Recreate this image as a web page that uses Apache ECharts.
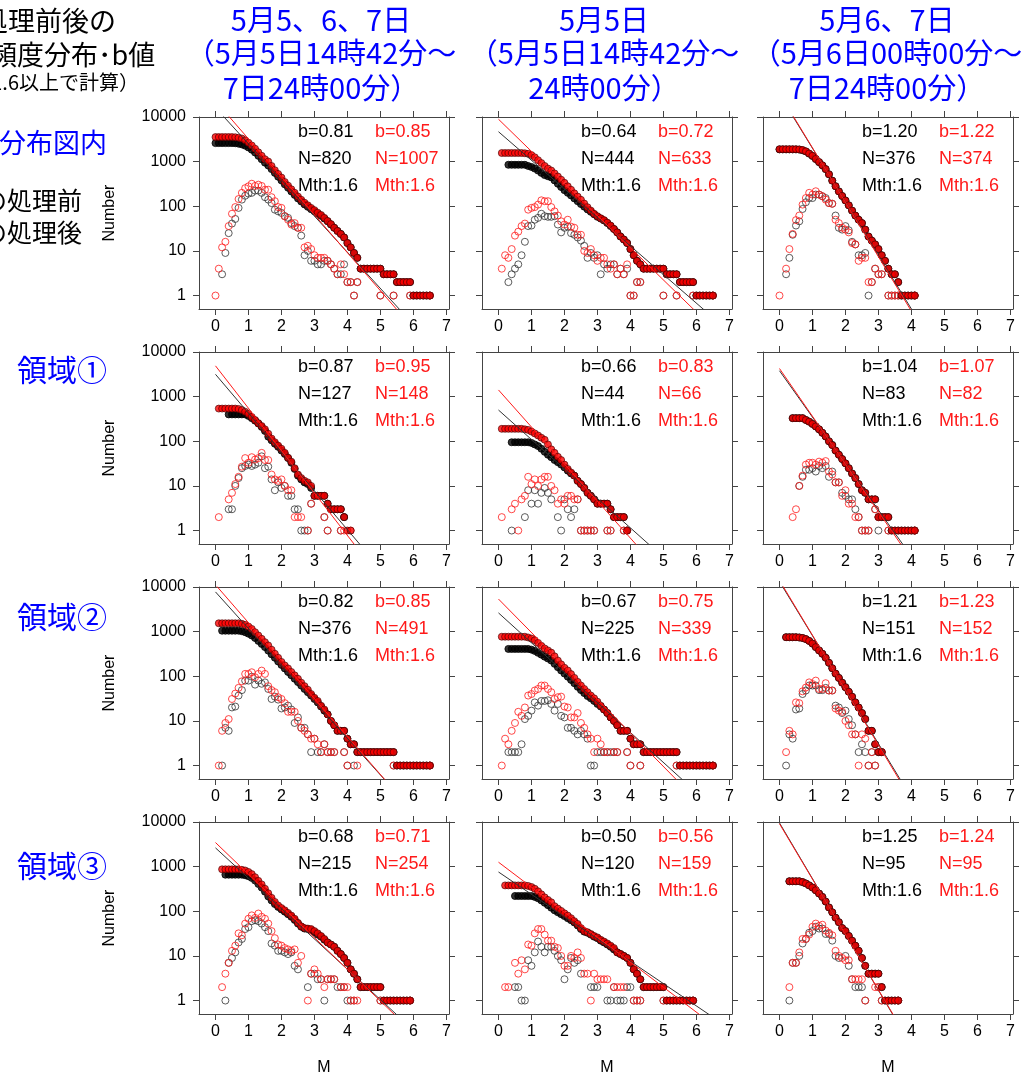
<!DOCTYPE html>
<html>
<head>
<meta charset="utf-8">
<script src="https://cdn.jsdelivr.net/npm/echarts@6/dist/echarts.min.js"></script>
<style>
  html, body { margin: 0; padding: 0; background: #fff; }
  #main { width: 1026px; height: 1079px; }
</style>
</head>
<body>
<div id="main"></div>
<script>
// magnitude bins, 0.1 step
const mags = [0.0,0.1,0.2,0.3,0.4,0.5,0.6,0.7,0.8,0.9,1.0,1.1,1.2,1.3,1.4,1.5,1.6,1.7,1.8,1.9,
  2.0,2.1,2.2,2.3,2.4,2.5,2.6,2.7,2.8,2.9,3.0,3.1,3.2,3.3,3.4,3.5,3.6,3.7,3.8,3.9,
  4.0,4.1,4.2,4.3,4.4,4.5,4.6,4.7,4.8,4.9,5.0,5.1,5.2,5.3,5.4,5.5,5.6,5.7,5.8,5.9,
  6.0,6.1,6.2,6.3,6.4,6.5];

// row 1 (whole area), col 1 : 5/5-7
const p11BlackCum = [2600,2600,2600,2600,2600,2600,2580,2520,2430,2280,2080,1850,1600,1350,1130,950,820,680,560,460,
  380,310,260,215,180,150,128,110,97,86,77,68,61,53,46,39,33,28,24,20,15,12,9,7,4,4,4,4,4,4,4,3,3,3,3,2,2,2,2,2,1,1,1,1,1,1];
const p11RedCum = [3550,3550,3550,3550,3550,3550,3520,3450,3300,3000,2650,2300,1950,1620,1350,1130,1007,800,640,530,
  440,350,290,240,200,165,140,120,105,92,82,72,64,55,47,40,33,28,24,20,15,12,9,7,4,4,4,4,4,4,4,3,3,3,3,2,2,2,2,2,1,1,1,1,1,1];
const p11BlackCnt = [0,0,3,9,25,41,52,92,141,172,192,200,224,224,200,160,141,118,84,77,
  71,60,55,42,36,33,22,8,10,6,6,5,5,6,6,5,4,3,3,5,2,2,1,2,0,0,0,0,0,0,1,0,0,0,1,0,0,0,0,1,0,0,0,0,0,1];
const p11RedCnt = [1,4,12,16,36,68,96,145,200,255,280,320,285,305,285,235,235,160,130,96,
  92,60,50,39,42,33,33,12,13,11,8,7,7,7,6,5,4,3,5,3,2,2,1,2,0,0,0,0,0,0,1,0,0,0,1,0,0,0,0,1,0,0,0,0,0,1];

// row 1, col 2 : 5/5
const p12BlackCum = [0,0,0,850,850,850,850,850,850,800,760,700,630,560,500,470,444,380,320,270,
  230,200,175,150,130,112,98,85,75,66,58,53,48,42,36,31,26,21,18,15,11,8,6,5,4,4,4,4,4,4,4,3,3,3,3,2,2,2,2,2,1,1,1,1,1,1];
const p12RedCum = [0,1560,1560,1560,1560,1560,1560,1560,1540,1500,1400,1250,1080,930,800,700,633,545,465,395,
  335,280,235,195,165,140,115,95,80,68,60,54,49,43,37,31,26,21,18,15,11,8,6,5,4,4,4,4,4,4,4,3,3,3,3,2,2,2,2,2,1,1,1,1,1,1];
const p12BlackCnt = [0,0,0,2,3,4,5,8,16,36,37,50,55,68,60,58,58,60,39,26,
  33,35,25,23,20,17,13,7,9,7,8,3,5,4,5,5,3,4,3,4,1,1,2,2,0,0,0,0,0,0,1,0,0,0,1,0,0,0,0,1,0,0,0,0,0,1];
const p12RedCnt = [0,4,8,7,11,22,27,36,41,84,92,96,109,136,130,130,96,77,62,46,
  39,50,35,33,23,23,10,9,11,8,6,7,7,5,4,5,3,4,3,5,1,1,2,2,0,0,0,0,0,0,1,0,0,0,1,0,0,0,0,1,0,0,0,0,0,1];

// row 1, col 3 : 5/6-7
const p13BlackCum = [1880,1880,1880,1880,1880,1880,1860,1800,1690,1510,1340,1140,975,825,680,520,376,282,216,170,
  135,105,80,62,50,42,30,21,17,14,11,8,6,4,3,3,2,1,1,1,1,1];
const p13RedCum = [1900,1900,1900,1900,1900,1900,1880,1820,1700,1520,1350,1150,980,830,680,520,374,280,215,170,
  135,105,80,62,50,42,30,21,17,14,11,8,6,4,3,3,2,1,1,1,1,1];
const p13BlackCnt = [0,0,3,7,23,37,46,87,123,153,153,183,183,168,153,118,114,62,33,30,
  36,29,16,14,8,8,9,1,2,4,3,3,0,1,1,1,1,0,0,0,0,1];
const p13RedCnt = [1,0,4,11,24,49,62,109,153,200,183,217,183,168,141,118,114,50,42,33,
  30,26,15,14,6,7,7,2,2,4,3,3,0,1,1,1,1,0,0,0,0,1];

// row 2 (region 1)
const p21BlackCum = [0,0,0,0,400,400,400,400,400,400,370,330,290,250,210,170,127,105,88,75,
  62,52,42,33,24,17,14,12,11,9,6,6,6,6,4,3,3,3,3,2];
const p21RedCum = [0,540,540,540,540,540,540,530,500,460,410,350,300,255,220,185,148,115,95,80,
  68,55,43,35,25,18,15,13,12,10,6,6,6,6,4,3,3,3,3,2,1,1];
const p21BlackCnt = [0,0,0,0,3,3,10,15,25,28,30,28,30,33,46,25,27,14,8,12,
  9,10,6,6,3,3,1,1,1,4,0,0,0,2,1,0,0,0,1,2];
const p21RedCnt = [0,2,0,0,5,7,11,16,27,42,33,44,39,42,55,38,38,18,14,13,
  14,10,8,8,2,2,2,0,1,4,0,0,0,2,1,0,0,0,1,1,0,1];

const p22BlackCum = [0,0,0,0,95,95,95,95,95,95,92,85,78,68,58,50,44,38,34,30,
  26,22,19,17,13,11,9,7,6,5,4,4,4,4,3,2,2,2,2,1];
const p22RedCum = [0,190,190,190,190,190,190,190,185,180,165,150,135,120,108,85,66,55,45,38,
  30,24,20,17,13,11,9,7,6,5,4,4,4,4,3,2,2,2,2,1];
const p22BlackCnt = [0,0,0,0,1,0,0,0,2,8,4,8,4,7,9,7,5,0,2,1,
  5,3,2,3,5,1,1,1,1,1,0,0,0,1,1,0,0,0,1,1];
const p22RedCnt = [0,2,0,0,3,4,1,5,6,16,11,14,10,14,16,16,10,8,4,5,
  4,6,6,5,5,1,1,1,1,1,0,0,0,1,1,0,0,0,1,1];

const p23BlackCum = [0,0,0,0,330,330,330,330,300,275,245,215,185,155,128,100,83,62,50,40,
  32,25,19,15,11,8,7,5,5,5,2,2,2,2,1,1,1,1,1,1,1,1];
const p23RedCum = [0,0,0,0,330,330,330,330,300,275,245,215,185,155,128,100,82,62,50,40,
  32,25,19,15,11,8,7,5,5,5,2,2,2,2,1,1,1,1,1,1,1,1];
const p23BlackCnt = [0,0,0,0,0,0,10,16,23,23,25,21,28,25,28,16,21,12,12,7,
  6,5,5,3,2,1,1,1,0,3,1,0,0,1,0,0,0,0,0,0,0,1];
const p23RedCnt = [0,0,0,0,2,3,10,17,30,33,33,30,35,33,36,21,18,12,12,6,
  8,4,4,2,2,1,1,1,0,3,2,0,0,1,0,0,0,0,0,0,0,1];

// row 3 (region 2)
const p31BlackCum = [0,0,1050,1050,1050,1050,1050,1050,1020,970,900,820,720,620,530,450,376,310,260,215,
  180,150,125,105,88,74,62,52,44,37,31,26,21,17,14,10,8,6,6,6,4,3,3,2,2,2,2,2,2,2,2,2,2,2,2,1,1,1,1,1,1,1,1,1,1,1];
const p31RedCum = [0,1540,1540,1540,1540,1540,1540,1540,1500,1420,1300,1150,970,820,690,580,491,395,320,260,
  210,175,150,125,105,88,72,60,50,40,33,28,22,18,14,10,8,6,6,6,4,3,3,2,2,2,2,2,2,2,2,2,2,2,2,1,1,1,1,1,1,1,1,1,1,1];
const p31BlackCnt = [0,0,1,7,6,20,21,37,49,80,80,98,65,80,68,73,52,31,35,30,
  19,20,22,18,9,12,7,7,5,2,4,2,2,3,2,2,2,0,0,2,1,0,1,0,0,0,0,0,0,0,0,0,0,0,1,0,0,0,0,0,0,0,0,0,0,1];
const p31RedCnt = [0,1,6,9,11,31,41,55,77,113,113,123,95,113,134,113,60,49,44,34,
  31,25,16,16,16,10,7,6,5,4,4,3,2,3,2,2,2,0,0,2,1,0,0,1,0,0,0,0,0,0,0,0,0,0,1,0,0,0,0,0,0,0,0,0,0,1];

const p32BlackCum = [0,0,0,410,410,410,410,410,410,410,395,370,335,305,275,250,225,190,160,135,
  115,98,83,70,58,49,42,36,32,28,24,21,18,15,12,10,8,6,6,6,4,3,3,3,2,2,2,2,2,2,2,2,2,2,2,1,1,1,1,1,1,1,1,1,1,1];
const p32RedCum = [0,770,770,770,770,770,770,770,770,740,700,640,560,480,420,380,339,280,225,185,
  155,135,112,92,75,62,52,44,37,32,27,22,18,15,12,10,8,6,6,6,4,3,3,3,2,2,2,2,2,2,2,2,2,2,2,1,1,1,1,1,1,1,1,1,1,1];
const p32BlackCnt = [0,0,0,2,2,2,2,3,11,13,17,26,22,28,28,29,24,17,24,13,
  12,7,7,6,5,6,5,4,1,1,2,2,2,2,2,2,2,0,0,2,1,0,0,1,0,0,0,0,0,0,0,0,0,0,1,0,0,0,0,0,0,0,0,0,0,1];
const p32RedCnt = [0,1,4,3,6,9,16,13,20,37,40,48,52,62,62,52,44,31,34,35,
  21,20,12,12,15,9,7,5,4,2,4,3,2,2,0,2,2,0,0,2,1,0,0,1,0,0,0,0,0,0,0,0,0,0,1,0,0,0,0,0,0,0,0,0,0,1];

const p33BlackCum = [0,0,750,750,750,750,740,720,680,620,540,450,380,320,260,200,151,115,92,72,
  57,45,35,26,20,15,11,6,6,3,2,2];
const p33RedCum = [0,0,750,750,750,750,740,720,680,620,540,450,380,320,260,200,152,115,92,72,
  57,45,35,26,20,15,11,6,6,3,2,2];
const p33BlackCnt = [0,0,1,5,4,18,19,40,48,62,62,62,49,49,55,48,48,22,20,15,
  17,11,8,5,2,3,2,1,2,1,0,2];
const p33RedCnt = [0,0,2,6,5,26,25,46,56,73,67,80,52,52,70,48,48,19,17,16,
  10,8,5,5,1,5,4,1,2,1,0,2];

// row 4 (region 3)
const p41BlackCum = [0,0,0,660,660,660,660,660,660,640,610,560,490,410,340,275,215,175,145,125,
  110,98,86,75,64,53,45,41,40,38,34,30,27,23,20,18,16,13,11,9,7,5,4,3,2,2,2,2,2,2,2,1,1,1,1,1,1,1,1,1];
const p41RedCum = [0,0,870,870,870,870,870,870,850,820,760,680,580,480,400,320,254,200,162,135,
  118,105,92,80,68,55,46,42,41,40,36,32,28,24,20,18,16,13,11,9,7,5,4,3,2,2,2,2,2,2,2,1,1,1,1,1,1,1,1,1];
const p41BlackCnt = [0,0,0,1,7,9,12,20,24,40,44,60,63,60,53,44,36,19,17,13,
  13,12,11,12,6,5,0,0,2,4,4,3,3,1,3,3,3,2,2,2,1,1,1,0,0,0,0,0,0,0,1,0,0,0,0,0,0,0,0,1];
const p41RedCnt = [0,0,2,4,7,13,17,32,29,53,68,81,71,89,75,68,53,36,25,18,
  17,15,14,13,14,7,10,0,1,4,5,4,3,2,3,3,3,0,2,2,2,1,1,1,0,0,0,0,0,0,1,0,0,0,0,0,0,0,0,1];

const p42BlackCum = [0,0,0,0,0,220,220,220,220,220,220,210,195,175,155,137,120,105,95,86,
  78,70,63,56,48,40,35,33,30,27,25,22,20,18,16,14,12,11,10,9,7,5,4,3,2,2,2,2,2,2,2,1,1,1,1,1,1,1,1,1];
const p42RedCum = [0,0,380,380,380,380,380,380,380,370,350,320,280,240,205,180,159,130,115,102,
  90,80,70,60,52,42,36,34,31,28,26,23,21,19,17,15,12,11,10,9,7,5,4,3,2,2,2,2,2,2,2,1,1,1,1,1,1,1,1,1];
const p42BlackCnt = [0,0,0,0,0,2,2,1,1,8,6,12,21,16,12,16,16,13,10,8,
  3,5,9,7,8,4,0,0,2,2,2,0,0,1,1,2,1,1,1,2,2,1,1,1,0,0,0,0,0,0,1,0,0,0,0,0,0,0,0,1];
const p42RedCnt = [0,0,2,2,0,7,4,8,5,18,17,32,40,40,30,22,22,16,15,10,
  6,6,10,9,12,9,4,4,1,4,3,3,3,3,0,2,2,2,2,0,0,1,1,1,0,0,0,0,0,0,1,0,0,0,0,0,0,0,0,1];

const p43BlackCum = [0,0,0,470,470,470,470,450,420,380,340,295,250,210,165,122,95,72,57,42,
  36,28,22,17,13,9,6,4,4,4,4,2,1,1,1,1,1];
const p43RedCum = [0,0,0,470,470,470,470,450,420,380,340,295,250,210,165,122,95,72,57,42,
  36,28,22,17,13,9,6,4,4,4,4,2,1,1,1,1,1];
const p43BlackCnt = [0,0,0,1,7,7,10,19,24,33,36,45,41,41,31,31,22,10,9,0,
  10,6,3,2,2,2,1,0,0,0,2,1,0,0,0,0,1];
const p43RedCnt = [0,0,0,2,7,7,12,24,24,30,45,53,47,50,37,33,29,13,10,9,
  8,8,3,3,3,3,1,0,0,2,2,1,0,0,0,0,1];

// fit results per panel (row-major)
const bBlack = [0.81, 0.64, 1.20, 0.87, 0.66, 1.04, 0.82, 0.67, 1.21, 0.68, 0.50, 1.25];
const bRed   = [0.85, 0.72, 1.22, 0.95, 0.83, 1.07, 0.85, 0.75, 1.23, 0.71, 0.56, 1.24];
const nBlack = [820, 444, 376, 127, 44, 83, 376, 225, 151, 215, 120, 95];
const nRed   = [1007, 633, 374, 148, 66, 82, 491, 339, 152, 254, 159, 95];
const mth = '1.6';
// log10 intercept (value at M=0) of each fitted line
const aBlack = [4.21, 3.67, 4.50, 3.50, 2.70, 3.58, 3.89, 3.42, 4.12, 3.42, 2.88, 3.98];
const aRed   = [4.36, 3.95, 4.53, 3.69, 3.15, 3.63, 4.05, 3.73, 4.15, 3.54, 3.10, 3.96];

const xTicks = [0, 1, 2, 3, 4, 5, 6, 7];
const yTicks = [1, 10, 100, 1000, 10000];

const colTitles = [
  ['5月5、6、7日', '（5月5日14時42分～', '7日24時00分）'],
  ['5月5日', '（5月5日14時42分～', '24時00分）'],
  ['5月6、7日', '（5月6日00時00分～', '7日24時00分）']
];
const rowLabels = ['領域①', '領域②', '領域③'];

const panels = [
  [p11BlackCum, p11RedCum, p11BlackCnt, p11RedCnt],
  [p12BlackCum, p12RedCum, p12BlackCnt, p12RedCnt],
  [p13BlackCum, p13RedCum, p13BlackCnt, p13RedCnt],
  [p21BlackCum, p21RedCum, p21BlackCnt, p21RedCnt],
  [p22BlackCum, p22RedCum, p22BlackCnt, p22RedCnt],
  [p23BlackCum, p23RedCum, p23BlackCnt, p23RedCnt],
  [p31BlackCum, p31RedCum, p31BlackCnt, p31RedCnt],
  [p32BlackCum, p32RedCum, p32BlackCnt, p32RedCnt],
  [p33BlackCum, p33RedCum, p33BlackCnt, p33RedCnt],
  [p41BlackCum, p41RedCum, p41BlackCnt, p41RedCnt],
  [p42BlackCum, p42RedCum, p42BlackCnt, p42RedCnt],
  [p43BlackCum, p43RedCum, p43BlackCnt, p43RedCnt]
];

// layout
const gridLefts = [199, 482, 763];
const gridTops = [117, 352, 587, 822];
const gridW = 250, gridH = 192;
const xMin = -0.5, xMax = 7.08;
const axisColor = '#444';
const latin = "'Liberation Sans', Arial, sans-serif";
const jp = "'Noto Sans CJK JP', sans-serif";
const blue = '#0000ff';
const red = '#ff1a1a';

function pairs(arr) {
  const out = [];
  arr.forEach((v, i) => { if (v > 0) out.push([mags[i], v]); });
  return out;
}

const grids = [], xAxes = [], yAxes = [], series = [], texts = [];

panels.forEach((p, k) => {
  const r = Math.floor(k / 3), c = k % 3;
  const left = gridLefts[c], top = gridTops[r];
  grids.push({ left: left, top: top, width: gridW, height: gridH, outerBoundsMode: 'none' });

  const line = { show: true, onZero: false, lineStyle: { color: axisColor, width: 1 } };
  xAxes.push({
    gridIndex: k, type: 'value', min: xMin, max: xMax, position: 'bottom',
    splitLine: { show: false }, axisLine: line,
    axisTick: { show: true, length: 6, customValues: xTicks, lineStyle: { color: axisColor } },
    axisLabel: { customValues: xTicks, fontSize: 16, color: '#000', margin: 10, fontFamily: latin,
      formatter: v => String(v) },
    name: r === 3 ? 'M' : '', nameLocation: 'middle', nameGap: 46,
    nameTextStyle: { fontSize: 16, color: '#000', fontFamily: latin }
  });
  xAxes.push({
    gridIndex: k, type: 'value', min: xMin, max: xMax, position: 'top',
    splitLine: { show: false }, axisLine: line,
    axisTick: { show: true, length: 6, customValues: xTicks, lineStyle: { color: axisColor } },
    axisLabel: { show: false }
  });
  yAxes.push({
    gridIndex: k, type: 'log', logBase: 10, min: 0.5, max: 10000, position: 'left',
    splitLine: { show: false }, axisLine: line,
    axisTick: { show: true, length: 6, customValues: yTicks, lineStyle: { color: axisColor } },
    axisLabel: { show: c === 0, customValues: yTicks, fontSize: 16, color: '#000', margin: 13, fontFamily: latin,
      formatter: v => String(Math.round(v)) },
    name: c === 0 ? 'Number' : '', nameLocation: 'middle', nameRotate: 90, nameGap: 81,
    nameTextStyle: { fontSize: 16, color: '#000', fontFamily: latin }
  });
  yAxes.push({
    gridIndex: k, type: 'log', logBase: 10, min: 0.5, max: 10000, position: 'right',
    splitLine: { show: false }, axisLine: line,
    axisTick: { show: true, length: 6, customValues: yTicks, lineStyle: { color: axisColor } },
    axisLabel: { show: false }
  });

  const xi = 2 * k, yi = 2 * k;
  const dot = { type: 'scatter', xAxisIndex: xi, yAxisIndex: yi, symbol: 'circle', symbolSize: 7, silent: true };
  series.push(Object.assign({}, dot, { data: pairs(p[2]),
    itemStyle: { color: 'rgba(0,0,0,0)', borderColor: '#333', borderWidth: 1 } }));
  series.push(Object.assign({}, dot, { data: pairs(p[0]),
    itemStyle: { color: '#000', borderColor: '#000', borderWidth: 1 } }));
  series.push(Object.assign({}, dot, { data: pairs(p[3]),
    itemStyle: { color: 'rgba(0,0,0,0)', borderColor: red, borderWidth: 1 } }));
  series.push(Object.assign({}, dot, { data: pairs(p[1]),
    itemStyle: { color: '#ff0000', borderColor: '#400000', borderWidth: 0.8 } }));

  const fit = (a, b) => [[0, Math.pow(10, a)], [xMax, Math.pow(10, a - b * xMax)]];
  series.push({ type: 'line', xAxisIndex: xi, yAxisIndex: yi, data: fit(aBlack[k], bBlack[k]),
    showSymbol: false, clip: true, silent: true, lineStyle: { color: '#333', width: 1 } });
  series.push({ type: 'line', xAxisIndex: xi, yAxisIndex: yi, data: fit(aRed[k], bRed[k]),
    showSymbol: false, clip: true, silent: true, lineStyle: { color: red, width: 1 } });

  const stat = [
    ['b=' + bBlack[k].toFixed(2), 'b=' + bRed[k].toFixed(2)],
    ['N=' + nBlack[k], 'N=' + nRed[k]],
    ['Mth:' + mth, 'Mth:' + mth]
  ];
  stat.forEach((s, j) => {
    const y = top + 15 + 27 * j;
    texts.push({ type: 'text', x: left + 99, y: y, silent: true,
      style: { text: s[0], fill: '#000', fontSize: 18, fontFamily: latin, verticalAlign: 'middle' } });
    texts.push({ type: 'text', x: left + 176, y: y, silent: true,
      style: { text: s[1], fill: red, fontSize: 18, fontFamily: latin, verticalAlign: 'middle' } });
  });
});

// column titles
const titleX = [321, 604, 887];
const titleY = [20, 53, 88];
colTitles.forEach((lines, c) => {
  lines.forEach((t, j) => {
    texts.push({ type: 'text', x: titleX[c], y: titleY[j], silent: true,
      style: { text: t, fill: blue, fontSize: 29, fontFamily: jp, align: 'center', verticalAlign: 'middle' } });
  });
});

// left-hand notes
const leftNotes = [
  { t: '処理前後の', x: -19, y: 21, size: 27, color: '#000', align: 'left' },
  { t: '頻度分布･b値', x: -10, y: 55, size: 27, color: '#000', align: 'left' },
  { t: '（M1.6以上で計算）', x: 139, y: 82, size: 20, color: '#000', align: 'right' },
  { t: '分布図内', x: -1, y: 143, size: 27, color: blue, align: 'left' },
  { t: 'の処理前', x: -18, y: 200, size: 25, color: '#000', align: 'left' },
  { t: 'の処理後', x: -18, y: 232, size: 25, color: '#000', align: 'left' }
];
leftNotes.forEach(n => {
  texts.push({ type: 'text', x: n.x, y: n.y, silent: true,
    style: { text: n.t, fill: n.color, fontSize: n.size, fontFamily: jp, align: n.align, verticalAlign: 'middle' } });
});
const rowLabelY = [370, 617, 866];
rowLabels.forEach((t, i) => {
  texts.push({ type: 'text', x: 17, y: rowLabelY[i], silent: true,
    style: { text: t, fill: blue, fontSize: 30, fontFamily: jp, verticalAlign: 'middle' } });
});

const chart = echarts.init(document.getElementById('main'), null, { renderer: 'canvas' });
chart.setOption({
  animation: false,
  backgroundColor: '#fff',
  grid: grids,
  xAxis: xAxes,
  yAxis: yAxes,
  series: series,
  graphic: { elements: texts }
});
</script>
</body>
</html>
